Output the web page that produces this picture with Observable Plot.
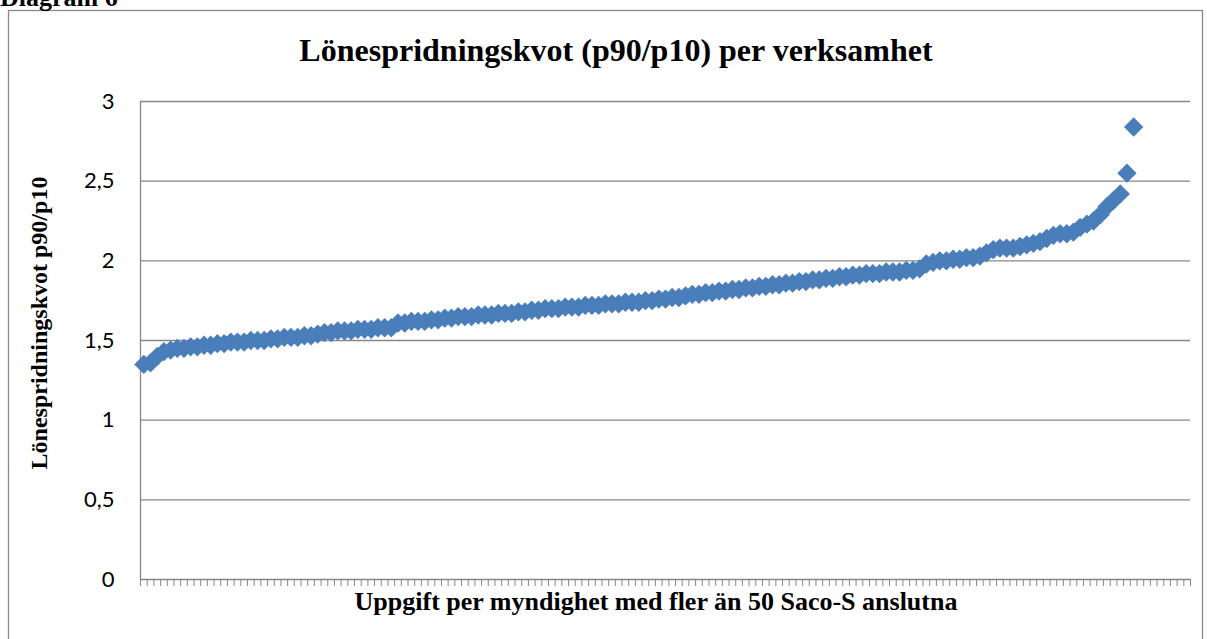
<!DOCTYPE html>
<html><head><meta charset="utf-8">
<script src="https://cdn.jsdelivr.net/npm/d3@7"></script>
<script src="https://cdn.jsdelivr.net/npm/@observablehq/plot@0.6"></script>
<style>
body{margin:0;background:#fff;}
#chart{position:relative;width:1207px;height:639px;overflow:hidden;}
#chart svg{overflow:visible;}
</style>
</head><body><div id="chart"></div>
<script>
// Lönespridningskvot (p90/p10), one value per verksamhet, sorted ascending
const values = [
  1.35,1.36,1.40,1.43,1.44,1.45,1.45,1.46,1.46,1.47,
  1.47,1.48,1.48,1.49,1.49,1.49,1.50,1.50,1.50,1.51,
  1.51,1.52,1.52,1.52,1.53,1.53,1.54,1.55,1.55,1.56,
  1.56,1.56,1.57,1.57,1.57,1.58,1.58,1.58,1.61,1.61,
  1.62,1.62,1.62,1.63,1.63,1.64,1.64,1.65,1.65,1.65,
  1.66,1.66,1.66,1.67,1.67,1.67,1.68,1.68,1.69,1.69,
  1.70,1.70,1.70,1.71,1.71,1.71,1.72,1.72,1.72,1.73,
  1.73,1.73,1.74,1.74,1.74,1.75,1.75,1.76,1.76,1.77,
  1.77,1.78,1.79,1.79,1.80,1.80,1.81,1.81,1.82,1.82,
  1.83,1.83,1.84,1.84,1.85,1.85,1.86,1.86,1.87,1.87,
  1.88,1.88,1.89,1.89,1.90,1.90,1.91,1.91,1.92,1.92,
  1.92,1.93,1.93,1.93,1.94,1.94,1.95,1.98,1.99,2.00,
  2.00,2.01,2.01,2.02,2.02,2.03,2.05,2.07,2.08,2.08,
  2.08,2.09,2.10,2.11,2.12,2.14,2.16,2.17,2.17,2.18,
  2.21,2.23,2.25,2.29,2.34,2.38,2.42,2.55,2.84
];
const categoryCount = 157; // category slots on the x axis (incl. empty ones)
const categories = d3.range(categoryCount);
const yTicks = [0, 0.5, 1, 1.5, 2, 2.5, 3];
const yTickLabels = ["0", "0,5", "1", "1,5", "2", "2,5", "3"];
const headerText = "Diagram 6";
const titleText = "Lönespridningskvot (p90/p10) per verksamhet";
const yLabelText = "Lönespridningskvot p90/p10";
const xLabelText = "Uppgift per myndighet med fler än 50 Saco-S anslutna";

const data = values.map((v, i) => ({pos: categories[i] + 0.5, v}));
const boundaries = d3.range(categoryCount + 1);
const gridColor = "#878787";

const plot = Plot.plot({
  width: 1207,
  height: 639,
  marginLeft: 140,
  marginRight: 17,
  marginTop: 101,
  marginBottom: 60,
  style: {background: "transparent", fontFamily: "Lato, 'Open Sans', sans-serif", fontSize: "22px", color: "#000"},
  x: {domain: [0, categoryCount]},
  y: {domain: [0, 3]},
  marks: [
    Plot.ruleY(yTicks.filter(d => d > 0), {stroke: gridColor, strokeWidth: 1.3}),
    Plot.ruleY([0], {stroke: gridColor, strokeWidth: 1.3}),
    Plot.ruleX([0], {stroke: gridColor, strokeWidth: 1.3}),
    Plot.axisX({ticks: boundaries, tickSize: 7, tickFormat: () => "", label: null, stroke: gridColor, strokeWidth: 1}),
    Plot.axisY({ticks: yTicks, tickSize: 0, tickPadding: 26, tickFormat: d => yTickLabels[yTicks.indexOf(d)], label: null, fontSize: 22}),
    Plot.dot(data, {x: "pos", y: "v", symbol: "diamond2", r: 8.7, fill: "#4a7ebb", stroke: "none"})
  ]
});

const svg = d3.select(plot);
const serif = "'Liberation Serif', 'Times New Roman', serif";
svg.insert("rect", ":first-child")
  .attr("x", 8.5).attr("y", 10.5).attr("width", 1194).attr("height", 700)
  .attr("fill", "none").attr("stroke", "#888").attr("stroke-width", 1.3);
svg.append("text").text(headerText)
  .attr("x", 0).attr("y", 6).attr("text-anchor", "start")
  .attr("font-family", serif).attr("font-weight", "bold").attr("font-size", 26).attr("fill", "#000");
svg.append("text").text(titleText)
  .attr("x", 616).attr("y", 61).attr("text-anchor", "middle")
  .attr("font-family", serif).attr("font-weight", "bold").attr("font-size", 32).attr("fill", "#000");
svg.append("text").text(yLabelText)
  .attr("transform", "translate(47,323) rotate(-90)").attr("text-anchor", "middle")
  .attr("font-family", serif).attr("font-weight", "bold").attr("font-size", 24).attr("fill", "#000");
svg.append("text").text(xLabelText)
  .attr("x", 656).attr("y", 610).attr("text-anchor", "middle")
  .attr("font-family", serif).attr("font-weight", "bold").attr("font-size", 26).attr("fill", "#000");

document.getElementById("chart").appendChild(plot);
</script>
</body></html>
